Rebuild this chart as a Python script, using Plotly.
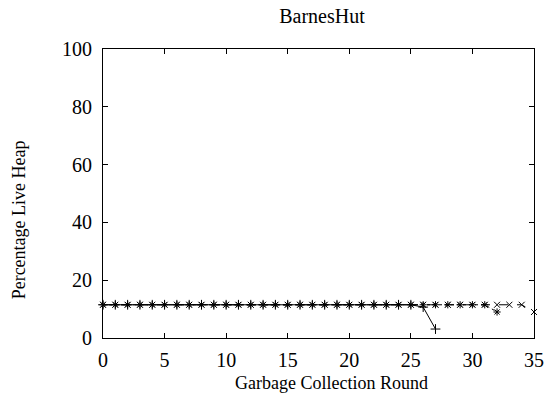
import plotly.graph_objects as go

# Data
rounds_plus = list(range(0, 28))
live_plus = [11.5] * 26 + [10.7, 3.1]

rounds_x = list(range(0, 36))
live_x = [11.5] * 35 + [9.0]

rounds_star = list(range(0, 33))
live_star = [11.5] * 32 + [9.0]

x_ticks = [0, 5, 10, 15, 20, 25, 30, 35]
y_ticks = [0, 20, 40, 60, 80, 100]

FONT = "Liberation Serif, Times New Roman, serif"
FS = 20
FS_AX = 18

fig = go.Figure()
fig.add_trace(go.Scatter(
    x=rounds_plus, y=live_plus, mode="lines+markers", cliponaxis=False,
    line=dict(color="black", width=1, dash="solid"),
    marker=dict(symbol="cross-thin", size=7, line=dict(color="black", width=1)),
    showlegend=False))
fig.add_trace(go.Scatter(
    x=rounds_x, y=live_x, mode="lines+markers", cliponaxis=False,
    line=dict(color="black", width=1, dash="dash"),
    marker=dict(symbol="x-thin", size=6, line=dict(color="black", width=1)),
    showlegend=False))
fig.add_trace(go.Scatter(
    x=rounds_star, y=live_star, mode="lines+markers", cliponaxis=False,
    line=dict(color="black", width=1, dash="dot"),
    marker=dict(symbol="asterisk", size=6, line=dict(color="black", width=1)),
    showlegend=False))

axis_common = dict(
    showgrid=False, zeroline=False, showline=True, linecolor="black", linewidth=1,
    mirror="ticks", ticks="inside", ticklen=5, tickcolor="black", tickwidth=1,
    tickfont=dict(family=FONT, size=FS, color="black"),
)

L, R, T, B = 103, 541, 49, 338
W, H = R - L, B - T

fig.update_layout(
    width=556, height=404,
    margin=dict(l=L, r=556 - R, t=T, b=404 - B),
    paper_bgcolor="white", plot_bgcolor="white",
    title=dict(text="BarnesHut", x=(L + R) / 2 / 556, xanchor="center",
               y=1 - 16 / 404, yanchor="middle",
               font=dict(family=FONT, size=FS, color="black")),
    xaxis=dict(range=[0, 35], tickvals=x_ticks, ticktext=[str(v) for v in x_ticks],
               ticklabelstandoff=4, **axis_common),
    yaxis=dict(range=[0, 100], tickvals=y_ticks, ticktext=[str(v) for v in y_ticks],
               ticklabelstandoff=6, **axis_common),
    annotations=[
        dict(text="Garbage Collection Round", xref="paper", yref="paper",
             x=(335 - L) / W, y=(B - 383) / H, xanchor="center", yanchor="middle",
             showarrow=False, font=dict(family=FONT, size=FS_AX, color="black")),
        dict(text="Percentage Live Heap", xref="paper", yref="paper",
             x=(18 - L) / W, y=(B - 220) / H, xanchor="center", yanchor="middle",
             textangle=-90, showarrow=False,
             font=dict(family=FONT, size=FS_AX, color="black")),
    ],
)

fig.write_html("out.html")
